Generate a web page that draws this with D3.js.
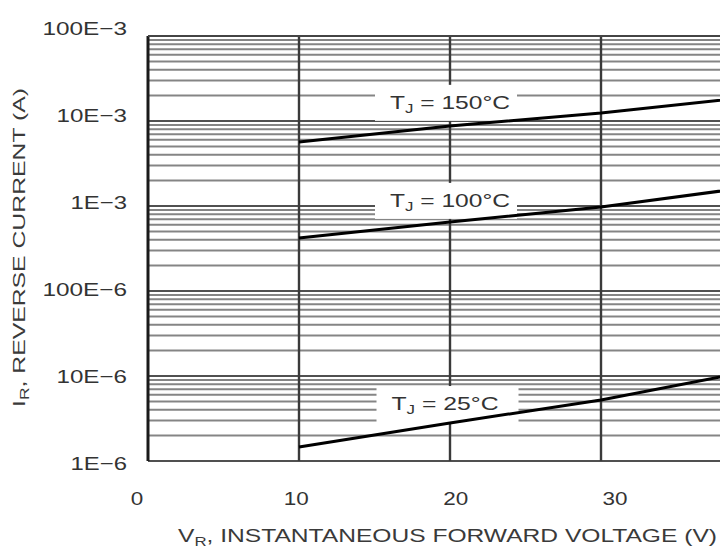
<!DOCTYPE html>
<html><head><meta charset="utf-8">
<script src="https://cdn.jsdelivr.net/npm/d3@7"></script>
<style>body{margin:0;background:#fff}svg{display:block}</style>
</head><body><svg id="c" width="720" height="552"></svg>
<script>
// ---- data ----
const voltage = [10, 20, 30, 40];
const current150 = [5.66e-3, 8.73e-3, 1.24e-2, 1.93e-2];
const current100 = [4.21e-4, 6.49e-4, 9.73e-4, 1.68e-3];
const current25 = [1.46e-6, 2.80e-6, 5.22e-6, 1.15e-5];
const seriesTemps = ["150", "100", "25"];
const labelVoltage = [20, 20, 20.1];
const labelCurrent = [1.68e-2, 1.18e-3, 4.81e-6];
const xTicks = [0, 10, 20, 30];
const xTickLabels = ["0", "10", "20", "30"];
const yTicks = [1e-1, 1e-2, 1e-3, 1e-4, 1e-5, 1e-6];
const yTickLabels = ["100E\u22123", "10E\u22123", "1E\u22123", "100E\u22126", "10E\u22126", "1E\u22126"];

// ---- drawing ----
const svg = d3.select("#c");
const L = 148, R = 752, T = 36, B = 461;
const x = d3.scaleLinear().domain([0, 40]).range([L, R]);
const y = d3.scaleLog().domain([1e-6, 1e-1]).range([B, T]);
const xLab = d3.scaleLinear().domain([0, 30]).range([137, 615]);
const yLab = d3.scaleLog().domain([1e-6, 1e-1]).range([463, 28]);
const font = "Liberation Sans, Arial, sans-serif";

svg.append("rect").attr("width", 720).attr("height", 552).attr("fill", "#fff");
const clip = svg.append("defs").append("clipPath").attr("id", "pc");
clip.append("rect").attr("x", L - 2).attr("y", T - 1).attr("width", R - L + 2).attr("height", B - T + 2);
const plot = svg.append("g").attr("clip-path", "url(#pc)");

// horizontal grid (log minor/major)
const hLines = [];
for (let d = -6; d <= -2; d++) for (let m = 1; m <= 9; m++) hLines.push({v: m * Math.pow(10, d), major: m === 1});
hLines.push({v: 1e-1, major: true});
plot.selectAll("line.h").data(hLines).join("line").attr("class", "h")
  .attr("x1", L).attr("x2", R)
  .attr("y1", d => y(d.v)).attr("y2", d => y(d.v))
  .attr("stroke", d => d.major ? "#505050" : "#858585")
  .attr("stroke-width", d => d.major ? 2.2 : 2);

// vertical grid
plot.selectAll("line.v").data(xTicks.concat([40])).join("line").attr("class", "v")
  .attr("x1", d => x(d)).attr("x2", d => x(d)).attr("y1", T).attr("y2", B)
  .attr("stroke", (d, i) => i === 0 ? "#1a1a1a" : "#3a3a3a")
  .attr("stroke-width", (d, i) => i === 0 ? 3 : 2.4);

// top border
plot.append("line").attr("x1", L).attr("x2", R).attr("y1", T).attr("y2", T).attr("stroke", "#444").attr("stroke-width", 2.2);

// label boxes
const labels = seriesTemps.map((t, i) => ({t, cx: x(labelVoltage[i]), cy: y(labelCurrent[i])}));
plot.selectAll("rect.lb").data(labels).join("rect").attr("class", "lb")
  .attr("x", d => d.cx - 75).attr("width", 142)
  .attr("y", d => d.cy - 17).attr("height", 36).attr("fill", "#fff");

// curves
const series = [current150, current100, current25];
const line = d3.line().x((d, i) => x(voltage[i])).y(d => y(d));
plot.selectAll("path.s").data(series).join("path").attr("class", "s")
  .attr("d", line).attr("fill", "none").attr("stroke", "#000").attr("stroke-width", 3);

// curve labels
labels.forEach((d, i) => {
  const t = svg.append("text").attr("x", d.cx - 60).attr("y", d.cy + 7)
    .attr("font-family", font).attr("font-size", 19).attr("fill", "#333")
    .attr("textLength", d.t.length === 3 ? 120 : 107).attr("lengthAdjust", "spacingAndGlyphs");
  t.append("tspan").text("T");
  t.append("tspan").attr("dy", 4).attr("font-size", 13).text("J");
  t.append("tspan").attr("dy", -4).text(" = " + d.t + "\u00B0C");
});

// y tick labels
svg.selectAll("text.yt").data(yTicks).join("text").attr("class", "yt")
  .attr("x", 127).attr("y", d => yLab(d) + 7).attr("text-anchor", "end")
  .attr("font-family", font).attr("font-size", 19).attr("fill", "#333")
  .attr("textLength", (d, i) => yTickLabels[i].length * 14.1).attr("lengthAdjust", "spacingAndGlyphs")
  .text((d, i) => yTickLabels[i]);

// x tick labels
svg.selectAll("text.xt").data(xTicks).join("text").attr("class", "xt")
  .attr("x", d => xLab(d)).attr("y", 505).attr("text-anchor", "middle")
  .attr("font-family", font).attr("font-size", 19).attr("fill", "#333")
  .attr("textLength", (d, i) => xTickLabels[i].length * 12.5).attr("lengthAdjust", "spacingAndGlyphs")
  .text((d, i) => xTickLabels[i]);

// x title
const xt = svg.append("text").attr("x", 178).attr("y", 542)
  .attr("font-family", font).attr("font-size", 19).attr("fill", "#3a3a3a")
  .attr("textLength", 539).attr("lengthAdjust", "spacingAndGlyphs");
xt.append("tspan").text("V");
xt.append("tspan").attr("dy", 4).attr("font-size", 13).text("R");
xt.append("tspan").attr("dy", -4).text(", INSTANTANEOUS FORWARD VOLTAGE (V)");

// y title
const yt = svg.append("text").attr("transform", "translate(25,407) rotate(-90)")
  .attr("font-family", font).attr("font-size", 17).attr("fill", "#3a3a3a")
  .attr("textLength", 319).attr("lengthAdjust", "spacingAndGlyphs");
yt.append("tspan").text("I");
yt.append("tspan").attr("dy", 4).attr("font-size", 12).text("R");
yt.append("tspan").attr("dy", -4).text(", REVERSE CURRENT (A)");
</script></body></html>
